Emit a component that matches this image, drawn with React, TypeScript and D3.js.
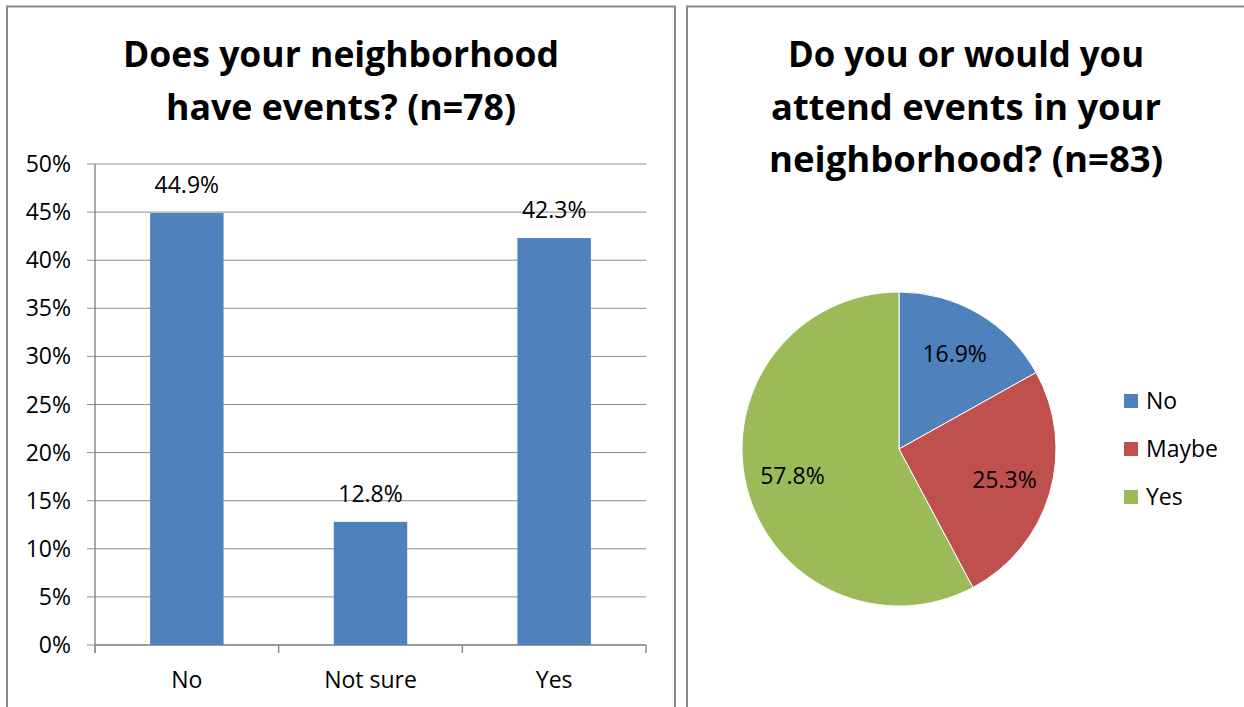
import React from "react";
import * as d3 from "d3";

const barCategories = ["No", "Not sure", "Yes"];
const barValues = [44.9, 12.8, 42.3];
const barLabels = ["44.9%", "12.8%", "42.3%"];
const yTicks = [0, 5, 10, 15, 20, 25, 30, 35, 40, 45, 50];

const pieCategories = ["No", "Maybe", "Yes"];
const pieValues = [16.9, 25.3, 57.8];
const pieLabels = ["16.9%", "25.3%", "57.8%"];
const pieColors = ["#4F81BD", "#C0504D", "#9BBB59"];

const barTitle = ["Does your neighborhood", "have events? (n=78)"];
const barTitleWidths = [436, 350];
const pieTitle = ["Do you or would you", "attend events in your", "neighborhood? (n=83)"];
const pieTitleWidths = [356, 390, 394];

const FONT = "'Open Sans', 'Noto Sans', sans-serif";

export default function App() {
  const W = 1244, H = 707;
  const x0 = 95, x1 = 646, yTop = 164, yBot = 645;
  const y = d3.scaleLinear().domain([0, 50]).range([yBot, yTop]);
  const x = d3.scaleBand().domain(barCategories).range([x0, x1]).paddingInner(0.6).paddingOuter(0.3);
  const step = (x1 - x0) / barCategories.length;

  const cx = 899, cy = 449, r = 157;
  const pie = d3.pie<number>().sort(null).value((d) => d)(pieValues);
  const arc = d3.arc<d3.PieArcDatum<number>>().innerRadius(0).outerRadius(r);
  const labelArc = d3.arc<d3.PieArcDatum<number>>().innerRadius(r * 0.7).outerRadius(r * 0.7);

  return (
    <svg width={W} height={H} style={{ position: "absolute", left: 0, top: 0, background: "#fff" }} fontFamily={FONT}>
      {/* panel borders */}
      <path d={`M7,${H + 5} V6.5 H675 V${H + 5}`} fill="none" stroke="#8a8a8a" strokeWidth={2} />
      <path d={`M687,${H + 5} V6.5 H${W + 5}`} fill="none" stroke="#8a8a8a" strokeWidth={2} />

      {/* bar chart title */}
      {barTitle.map((t, i) => (
        <text key={t} x={341} y={67 + i * 53} textAnchor="middle" fontSize={35} fontWeight="bold" fill="#000"
          textLength={barTitleWidths[i]} lengthAdjust="spacingAndGlyphs">{t}</text>
      ))}

      {/* gridlines & y ticks */}
      {yTicks.map((t) => (
        <g key={t}>
          <line x1={87} x2={x1} y1={y(t)} y2={y(t)} stroke="#8c8c8c" strokeWidth={1} />
          <text x={71} y={y(t) + 8} textAnchor="end" fontSize={23} fill="#000">{t}%</text>
        </g>
      ))}
      <line x1={x0} x2={x0} y1={yTop} y2={yBot + 8} stroke="#8c8c8c" strokeWidth={1.5} />
      {d3.range(barCategories.length + 1).map((i) => (
        <line key={i} x1={x0 + i * step} x2={x0 + i * step} y1={yBot} y2={yBot + 8} stroke="#8c8c8c" strokeWidth={1.5} />
      ))}
      <line x1={x0} x2={x1} y1={yBot} y2={yBot} stroke="#8c8c8c" strokeWidth={1.5} />

      {/* bars */}
      {barCategories.map((c, i) => (
        <g key={c}>
          <rect x={x(c)} y={y(barValues[i])} width={x.bandwidth()} height={yBot - y(barValues[i])} fill="#4F81BD" />
          <text x={(x(c) as number) + x.bandwidth() / 2} y={y(barValues[i]) - 20} textAnchor="middle" fontSize={23} fill="#000">{barLabels[i]}</text>
          <text x={(x(c) as number) + x.bandwidth() / 2} y={688} textAnchor="middle" fontSize={23} fill="#000">{c}</text>
        </g>
      ))}

      {/* pie title */}
      {pieTitle.map((t, i) => (
        <text key={t} x={966} y={67 + i * 52.5} textAnchor="middle" fontSize={35} fontWeight="bold" fill="#000"
          textLength={pieTitleWidths[i]} lengthAdjust="spacingAndGlyphs">{t}</text>
      ))}

      {/* pie */}
      <g transform={`translate(${cx},${cy})`}>
        {pie.map((p, i) => (
          <path key={i} d={arc(p) as string} fill={pieColors[i]} stroke="#fff" strokeWidth={1} />
        ))}
        {pie.map((p, i) => {
          const [lx, ly] = labelArc.centroid(p);
          return (
            <text key={"l" + i} x={lx} y={ly + 8} textAnchor="middle" fontSize={23} fill="#000">{pieLabels[i]}</text>
          );
        })}
      </g>

      {/* legend */}
      {pieCategories.map((c, i) => (
        <g key={c} transform={`translate(1124,${401 + i * 48})`}>
          <rect x={0} y={-7} width={14} height={14} fill={pieColors[i]} />
          <text x={22} y={8} fontSize={23} fill="#000">{c}</text>
        </g>
      ))}
    </svg>
  );
}
